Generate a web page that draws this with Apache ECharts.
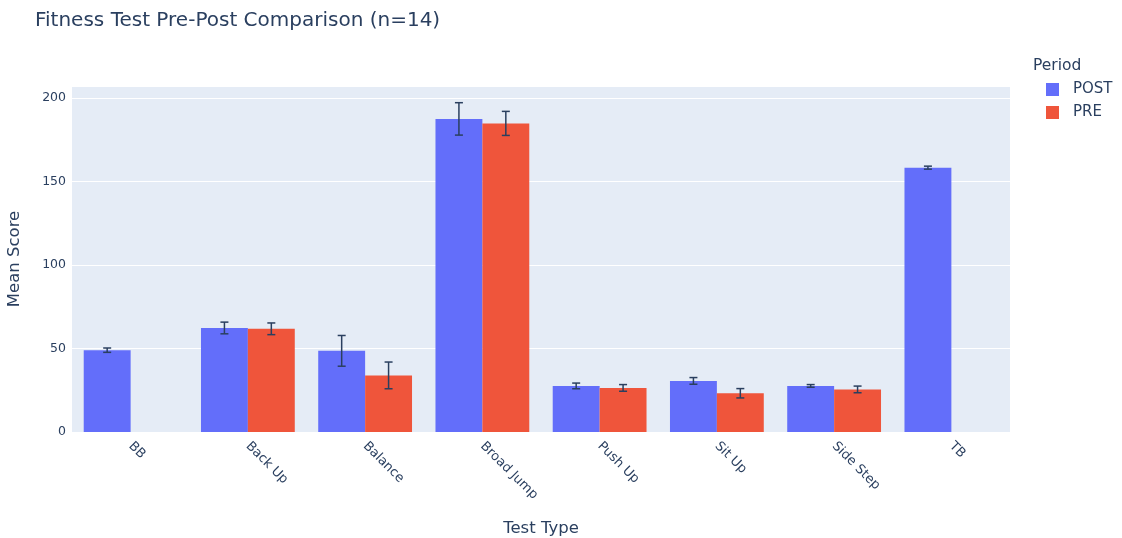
<!DOCTYPE html>
<html>
<head>
<meta charset="utf-8">
<script src="https://cdn.jsdelivr.net/npm/echarts@6/dist/echarts.min.js"></script>
<style>html,body{margin:0;padding:0;background:#fff}#c{width:1122px;height:538px}</style>
</head>
<body>
<div id="c"></div>
<script>
const categories = ['BB', 'Back Up', 'Balance', 'Broad Jump', 'Push Up', 'Sit Up', 'Side Step', 'TB'];
const postMean = [49.0, 62.3, 48.6, 187.5, 27.6, 30.6, 27.6, 158.3];
const postErr  = [1.3, 3.5, 9.2, 9.7, 1.7, 2.0, 0.8, 0.9];
const preMean  = [null, 61.8, 33.9, 184.8, 26.4, 23.2, 25.5, null];
const preErr   = [null, 3.5, 8.0, 7.2, 2.0, 2.8, 2.0, null];
const yTicks = [0, 50, 100, 150, 200];

const FONT = '"DejaVu Sans", verdana, arial, sans-serif';
const TXT = '#2a3f5f';
const POST_C = '#636EFA';
const PRE_C = '#EF553B';

function errData(means, errs) {
  const out = [];
  means.forEach((m, i) => {
    if (m != null && errs[i] != null) out.push([i, m - errs[i], m + errs[i]]);
  });
  return out;
}

function errRenderer(offsetFrac) {
  return function (params, api) {
    const idx = api.value(0);
    const lo = api.coord([idx, api.value(1)]);
    const hi = api.coord([idx, api.value(2)]);
    const band = api.size([1, 0])[0];
    const x = lo[0] + offsetFrac * band;
    const cap = 4;
    const style = { stroke: TXT, lineWidth: 1.5 };
    return {
      type: 'group',
      children: [
        { type: 'line', shape: { x1: x, y1: lo[1], x2: x, y2: hi[1] }, style },
        { type: 'line', shape: { x1: x - cap, y1: lo[1], x2: x + cap, y2: lo[1] }, style },
        { type: 'line', shape: { x1: x - cap, y1: hi[1], x2: x + cap, y2: hi[1] }, style }
      ]
    };
  };
}

const chart = echarts.init(document.getElementById('c'), null, { renderer: 'canvas' });
chart.setOption({
  animation: false,
  textStyle: { fontFamily: FONT },
  title: [
    { text: 'Fitness Test Pre-Post Comparison (n=14)', left: 30, top: 6,
      textStyle: { fontFamily: FONT, fontSize: 20, fontWeight: 'normal', color: TXT } },
    { text: 'Period', left: 1028, top: 53,
      textStyle: { fontFamily: FONT, fontSize: 15.5, fontWeight: 'normal', color: TXT } }
  ],
  legend: {
    orient: 'vertical', left: 1041, top: 77, itemGap: 8,
    itemWidth: 13, itemHeight: 13, icon: 'rect',
    textStyle: { fontFamily: FONT, fontSize: 15, color: TXT, padding: [0, 0, 0, 9] },
    data: ['POST', 'PRE']
  },
  grid: { left: 72, right: 112, top: 86, bottom: 106, show: true, backgroundColor: '#E5ECF6', borderWidth: 0,
    containLabel: false, outerBoundsMode: 'none' },
  xAxis: {
    type: 'category', data: categories,
    name: 'Test Type', nameLocation: 'middle', nameGap: 88,
    nameTextStyle: { fontFamily: FONT, fontSize: 16.5, color: TXT },
    axisLine: { show: false }, axisTick: { show: false },
    axisLabel: { rotate: -45, margin: 12, fontSize: 13, color: TXT, fontFamily: FONT, interval: 0 },
    splitLine: { show: false }
  },
  yAxis: {
    type: 'value', min: 0, max: 207.2, interval: 50,
    name: 'Mean Score', nameLocation: 'middle', nameGap: 49,
    nameTextStyle: { fontFamily: FONT, fontSize: 16.5, color: TXT },
    axisLine: { show: false }, axisTick: { show: false },
    axisLabel: { showMaxLabel: false, fontSize: 12.5, color: TXT, fontFamily: FONT, margin: 6,
      formatter: v => (yTicks.indexOf(v) >= 0 ? String(v) : '') },
    splitLine: { show: true, lineStyle: { color: '#ffffff', width: 1 } }
  },
  series: [
    { name: 'POST', type: 'bar', data: postMean, itemStyle: { color: POST_C },
      barGap: '0%', barCategoryGap: '20%' },
    { name: 'PRE', type: 'bar', data: preMean, itemStyle: { color: PRE_C },
      barGap: '0%', barCategoryGap: '20%' },
    { name: 'POST err', type: 'custom', data: errData(postMean, postErr),
      renderItem: errRenderer(-0.2), encode: { x: 0, y: [1, 2] }, z: 10, silent: true },
    { name: 'PRE err', type: 'custom', data: errData(preMean, preErr),
      renderItem: errRenderer(0.2), encode: { x: 0, y: [1, 2] }, z: 10, silent: true }
  ]
});
</script>
</body>
</html>
